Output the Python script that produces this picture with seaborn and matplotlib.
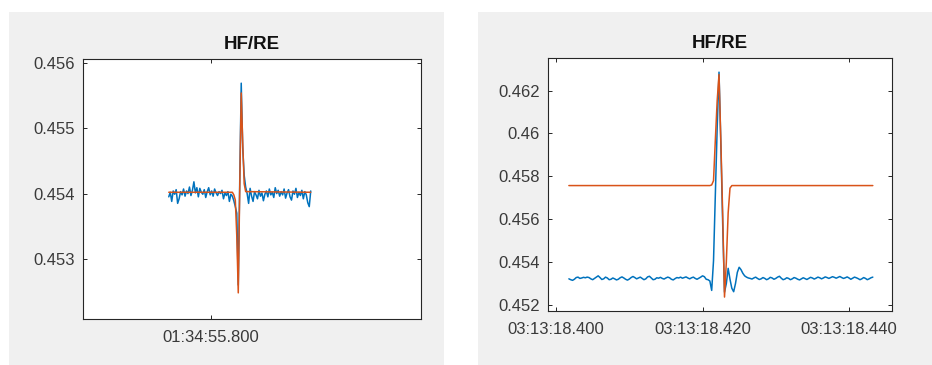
import numpy as np
import pandas as pd
import matplotlib
matplotlib.use("Agg")
import matplotlib.pyplot as plt
from matplotlib.patches import Rectangle
from matplotlib.ticker import FuncFormatter, MultipleLocator, FormatStrFormatter
import seaborn as sns

# ---------------- data ----------------
TITLE = "HF/RE"

# Left window: seconds of day, uniform sampling
left_t0 = 5695.7900          # 01:34:55.790
left_dt = 0.00035
left_measured = [
    0.45395, 0.45402, 0.45388, 0.45404, 0.45399, 0.45406, 0.45385, 0.45392, 0.45403, 0.45398,
    0.45407, 0.45396, 0.45404, 0.45400, 0.45410, 0.45397, 0.45405, 0.45418, 0.45401, 0.45409,
    0.45395, 0.45408, 0.45402, 0.45399, 0.45406, 0.45394, 0.45403, 0.45409, 0.45398, 0.45404,
    0.45396, 0.45407, 0.45401, 0.45397, 0.45403, 0.45400, 0.45405, 0.45392, 0.45401, 0.45397,
    0.45403, 0.45388, 0.45399, 0.45396, 0.45389, 0.45380, 0.45370, 0.45260, 0.45420, 0.45569,
    0.45470, 0.45428, 0.45410, 0.45400, 0.45385, 0.45408, 0.45396, 0.45388, 0.45403, 0.45398,
    0.45392, 0.45405, 0.45396, 0.45401, 0.45389, 0.45399, 0.45404, 0.45395, 0.45407, 0.45398,
    0.45402, 0.45394, 0.45409, 0.45400, 0.45405, 0.45396, 0.45403, 0.45398, 0.45407, 0.45393,
    0.45401, 0.45406, 0.45395, 0.45390, 0.45404, 0.45399, 0.45408, 0.45394, 0.45402, 0.45397,
    0.45405, 0.45392, 0.45403, 0.45398, 0.45386, 0.45380, 0.45404,
]
# fitted pulse (knots of the model curve)
left_fit_t = [5695.79000, 5695.80505, 5695.80540, 5695.80575, 5695.80610, 5695.80645,
              5695.80680, 5695.80715, 5695.80750, 5695.80785, 5695.80820, 5695.82360]
left_fit_v = [0.45402, 0.45402, 0.45398, 0.45390, 0.45335, 0.45248,
              0.45410, 0.45554, 0.45478, 0.45415, 0.45403, 0.45402]

# Right window: seconds of day, uniform sampling
right_t0 = 11598.40175       # 03:13:18.40175
right_dt = 0.00025
right_measured = [
    0.45322, 0.45318, 0.45315, 0.45320, 0.45328, 0.45330, 0.45324, 0.45326, 0.45329, 0.45327,
    0.45330, 0.45328, 0.45322, 0.45318, 0.45324, 0.45330, 0.45336, 0.45328, 0.45319, 0.45322,
    0.45330, 0.45326, 0.45318, 0.45320, 0.45326, 0.45322, 0.45317, 0.45320, 0.45327, 0.45331,
    0.45326, 0.45320, 0.45316, 0.45321, 0.45328, 0.45333, 0.45328, 0.45322, 0.45326, 0.45330,
    0.45324, 0.45318, 0.45322, 0.45331, 0.45334, 0.45326, 0.45318, 0.45320, 0.45327, 0.45325,
    0.45329, 0.45324, 0.45321, 0.45326, 0.45330, 0.45327, 0.45320, 0.45317, 0.45323, 0.45328,
    0.45326, 0.45330, 0.45325, 0.45328, 0.45331, 0.45326, 0.45322, 0.45327, 0.45330, 0.45324,
    0.45320, 0.45325, 0.45330, 0.45336, 0.45332, 0.45320, 0.45318, 0.45312,
    0.45268, 0.45406, 0.45709, 0.46027, 0.46286, 0.45950, 0.45580, 0.45260, 0.45300, 0.45371,
    0.45320, 0.45278, 0.45262, 0.45300, 0.45352, 0.45376, 0.45365, 0.45348, 0.45336, 0.45330,
    0.45326,
    0.45324, 0.45321, 0.45326, 0.45330, 0.45324, 0.45319, 0.45322, 0.45328, 0.45324, 0.45318,
    0.45322, 0.45329, 0.45326, 0.45320, 0.45324, 0.45330, 0.45334, 0.45325, 0.45318, 0.45321,
    0.45327, 0.45324, 0.45318, 0.45322, 0.45328, 0.45325, 0.45320, 0.45317, 0.45322, 0.45327,
    0.45323, 0.45319, 0.45324, 0.45329, 0.45326, 0.45321, 0.45325, 0.45330, 0.45327, 0.45322,
    0.45326, 0.45331, 0.45328, 0.45324, 0.45328, 0.45332, 0.45329, 0.45325, 0.45329, 0.45333,
    0.45328, 0.45324, 0.45327, 0.45331, 0.45326, 0.45320, 0.45325, 0.45330, 0.45327, 0.45323,
    0.45318, 0.45322, 0.45328, 0.45324, 0.45318, 0.45322, 0.45327, 0.45330,
]
right_fit_t = [11598.40175, 11598.42100, 11598.42125, 11598.42150, 11598.42175, 11598.42200,
               11598.42225, 11598.42250, 11598.42275, 11598.42300, 11598.42325, 11598.42350,
               11598.42375, 11598.42400, 11598.44325]
right_fit_v = [0.45757, 0.45757, 0.45760, 0.45780, 0.45971, 0.46153,
               0.46275, 0.45966, 0.45625, 0.45237, 0.45400, 0.45630,
               0.45745, 0.45757, 0.45757]

left_yticks = [0.453, 0.454, 0.455, 0.456]
right_yticks = [0.452, 0.454, 0.456, 0.458, 0.46, 0.462]

# ---------------- style ----------------
sns.set_style("white")
plt.rcParams["font.family"] = ["Liberation Sans", "DejaVu Sans"]

BLUE = "#0072BD"
ORANGE = "#D95319"
PANEL = "#F0F0F0"
INK = "#262626"
TXT = "#3a3a3a"

W, H = 932, 365
fig = plt.figure(figsize=(W / 100, H / 100), dpi=100)
fig.patch.set_facecolor("white")

# grey window backgrounds (figure pixel coordinates), kept behind the axes
for x0, x1 in [(9, 444), (478, 932)]:
    fig.patches.append(Rectangle((x0 / W, 0), (x1 - x0) / W, 1 - 12 / H,
                                 transform=fig.transFigure, facecolor=PANEL,
                                 edgecolor="none", zorder=-10))


def clock(x, pos=None):
    h = int(x // 3600)
    m = int((x - h * 3600) // 60)
    s = x - h * 3600 - m * 60
    return f"{h:02d}:{m:02d}:{s:06.3f}"


def make_axes(box):
    l, t, r, b = box
    ax = fig.add_axes([l / W, 1 - b / H, (r - l) / W, (b - t) / H])
    ax.set_zorder(5)
    ax.set_facecolor("white")
    for sp in ax.spines.values():
        sp.set_visible(True)
        sp.set_color(INK)
        sp.set_linewidth(0.8)
    ax.tick_params(direction="in", length=3, width=0.7, color=INK,
                   top=True, right=True, bottom=True, left=True,
                   labelsize=12, labelcolor=TXT)
    ax.tick_params(axis="y", pad=6)
    ax.tick_params(axis="x", pad=8)
    ax.set_title(TITLE, fontsize=13.5, fontweight="bold", color="#111111", pad=7)
    return ax


def draw(ax, t0, dt, meas, fit_t, fit_v):
    t = t0 + dt * np.arange(len(meas))
    dm = pd.DataFrame({"t": t, "v": meas})
    df = pd.DataFrame({"t": fit_t, "v": fit_v})
    sns.lineplot(data=dm, x="t", y="v", ax=ax, color=BLUE, linewidth=1.1)
    sns.lineplot(data=df, x="t", y="v", ax=ax, color=ORANGE, linewidth=1.1)
    ax.set_xlabel("")
    ax.set_ylabel("")
    ax.xaxis.set_major_formatter(FuncFormatter(clock))


# left panel
axl = make_axes((83, 59, 421, 319))
draw(axl, left_t0, left_dt, left_measured, left_fit_t, left_fit_v)
axl.set_xlim(5695.7697, 5695.8497)
axl.set_ylim(0.45208, 0.45606)
axl.xaxis.set_major_locator(MultipleLocator(0.1))
axl.set_yticks(left_yticks)
axl.yaxis.set_major_formatter(FormatStrFormatter("%g"))

# right panel
axr = make_axes((548, 58, 892, 311))
draw(axr, right_t0, right_dt, right_measured, right_fit_t, right_fit_v)
axr.set_xlim(11598.3989, 11598.44587)
axr.set_ylim(0.45172, 0.46352)
axr.set_xticks([11598.40, 11598.42, 11598.44])
axr.set_yticks(right_yticks)
axr.yaxis.set_major_formatter(FormatStrFormatter("%g"))

fig.savefig("out.png", dpi=100, facecolor="white")
